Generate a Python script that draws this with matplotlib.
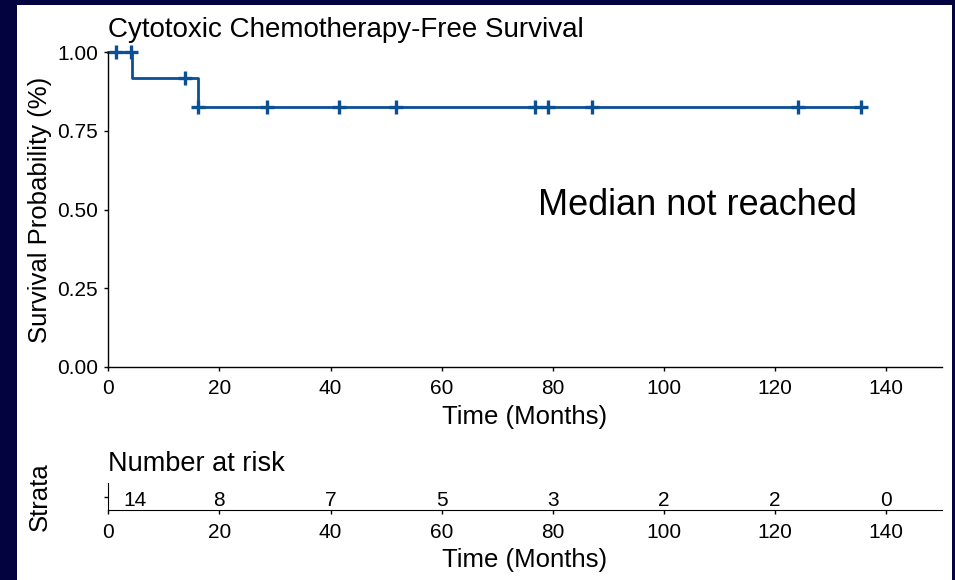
import numpy as np
import matplotlib
matplotlib.use("Agg")
import matplotlib.pyplot as plt
from matplotlib.patches import Rectangle

plt.rcParams['font.family'] = ['Liberation Sans', 'DejaVu Sans']

# ==============================
# Data
# ==============================
step_times = [0, 4.3, 16.2]              # months where the curve drops (start at 0)
surv_levels = [1.0, 0.917, 0.825]        # survival after each step
last_time = 135.4                        # end of follow-up
censor_times = [1.4, 4.0, 13.8, 16.2, 28.5, 41.6, 51.8, 76.8, 79.2, 87.1, 124.2, 135.4]
censor_surv = [1.0, 1.0, 0.917, 0.825, 0.825, 0.825, 0.825, 0.825, 0.825, 0.825, 0.825, 0.825]
risk_times = [0, 20, 40, 60, 80, 100, 120, 140]
n_at_risk = [14, 8, 7, 5, 3, 2, 2, 0]
x_ticks = [0, 20, 40, 60, 80, 100, 120, 140]
y_ticks = [0.0, 0.25, 0.5, 0.75, 1.0]

LINE_COLOR = '#0b4f94'
BG_COLOR = '#03033f'
TICK_FS = 15
LABEL_FS = 18.5

W, H = 955, 580
fig = plt.figure(figsize=(W / 100, H / 100), dpi=100, facecolor=BG_COLOR)
fig.patches.append(Rectangle((17 / W, 0), (952 - 17) / W, (H - 5) / H,
                             transform=fig.transFigure, facecolor='white',
                             edgecolor='none', zorder=-10))

# ==============================
# Survival curve
# ==============================
ax = fig.add_axes([108.3 / W, (H - 366.7) / H, (941.7 - 108.3) / W, (366.7 - 52.3) / H])
ax.set_facecolor('none')
xs = list(step_times) + [last_time]
ys = list(surv_levels) + [surv_levels[-1]]
ax.step(xs, ys, where='post', color=LINE_COLOR, lw=2.0, clip_on=False)
ax.plot(censor_times, censor_surv, '+', color=LINE_COLOR, ms=9.5, mew=2.4, clip_on=False)
ax.set_xlim(0, 150)
ax.set_ylim(0, 1)
ax.set_xticks(x_ticks)
ax.set_yticks(y_ticks)
ax.set_yticklabels(['%.2f' % v for v in y_ticks])
for s in ['top', 'right']:
    ax.spines[s].set_visible(False)
for s in ['left', 'bottom']:
    ax.spines[s].set_linewidth(1.0)
ax.tick_params(axis='both', labelsize=TICK_FS, length=3, width=1.0, colors='black')
ax.tick_params(axis='x', pad=6)
ax.tick_params(axis='y', pad=4.5)
ax.set_xlabel('Time (Months)', fontsize=LABEL_FS, labelpad=5)
ax.set_ylabel('Survival Probability (%)', fontsize=LABEL_FS)
ax.yaxis.set_label_coords(-0.0676, 0.5)
ax.text(0, 1.0496, 'Cytotoxic Chemotherapy-Free Survival', transform=ax.transAxes,
        fontsize=20, ha='left', va='baseline')
ax.text(106, 0.4825, 'Median not reached', fontsize=26, ha='center', va='baseline')

# ==============================
# Risk table
# ==============================
rt = fig.add_axes([108.3 / W, (H - 510) / H, (941.7 - 108.3) / W, 27 / H])
rt.set_facecolor('none')
rt.set_xlim(0, 150)
rt.set_ylim(0, 1)
rt.set_xticks(x_ticks)
rt.set_yticks([0.5])
rt.set_yticklabels([''])
for s in ['top', 'right']:
    rt.spines[s].set_visible(False)
rt.tick_params(axis='both', labelsize=TICK_FS, length=3, width=1.0)
rt.tick_params(axis='x', pad=6)
for i, (t, n) in enumerate(zip(risk_times, n_at_risk)):
    if i == 0:
        rt.annotate(str(n), (t, 0.15), xytext=(19, 0), textcoords='offset points',
                    ha='center', va='baseline', fontsize=TICK_FS)
    else:
        rt.text(t, 0.15, str(n), ha='center', va='baseline', fontsize=TICK_FS)
rt.set_xlabel('Time (Months)', fontsize=LABEL_FS, labelpad=5)
rt.set_ylabel('Strata', fontsize=LABEL_FS)
rt.yaxis.set_label_coords(-0.0676, 0.5)
rt.text(0, 1.44, 'Number at risk', transform=rt.transAxes, fontsize=19.5,
        ha='left', va='baseline')

fig.savefig('out.png', dpi=100, facecolor=BG_COLOR)
